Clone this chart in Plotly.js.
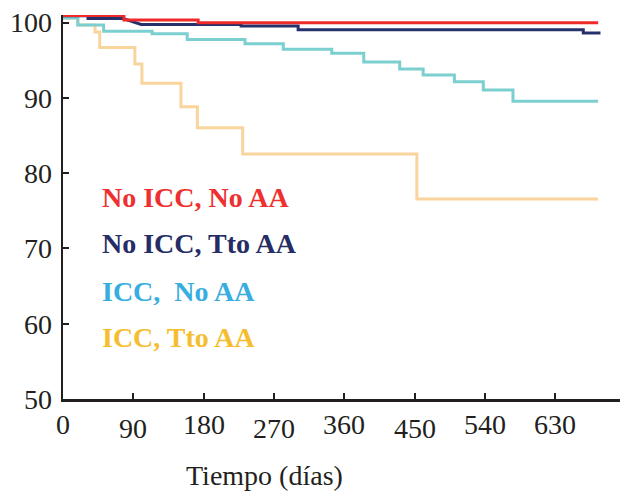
<!DOCTYPE html>
<html>
<head>
<meta charset="utf-8">
<script src="https://cdn.plot.ly/plotly-3.0.1.min.js"></script>
<style>html,body{margin:0;padding:0;background:#fff;}#chart{width:620px;height:492px;}</style>
</head>
<body>
<div id="chart"></div>
<script>
// Data (days, survival %)
const redDays  = [0, 78, 173, 685];
const redVals  = [100.93, 100.33, 99.96, 99.96];

const navyDays = [0, 32, 32, 77, 100, 228, 228, 301, 301, 666, 666, 688];
const navyVals = [100.9, 100.9, 100.52, 100.52, 99.75, 99.75, 99.53, 99.53, 99.04, 99.04, 98.6, 98.6];

const tealDays = [0, 19, 52, 114, 159, 233, 282, 344, 385, 431, 461, 501, 538, 576, 685];
const tealVals = [100.6, 99.67, 98.83, 98.51, 97.74, 97.18, 96.44, 95.91, 94.75, 93.82, 93.03, 92.14, 91.04, 89.54, 89.54];

const orangeDays = [0, 19, 41, 47, 92, 101, 151, 172, 230, 453, 685];
const orangeVals = [100.6, 99.67, 98.74, 96.68, 94.49, 91.93, 88.82, 86.03, 82.54, 76.56, 76.56];

const seriesNames = ["No ICC, No AA", "No ICC, Tto AA", "ICC,\u00a0 No AA", "ICC, Tto AA"];
const xTicks = [0, 90, 180, 270, 360, 450, 540, 630];
const xTickLabels = ["0", "90", "180", "270", "360", "450", "540", "630"];
const yTicks = [50, 60, 70, 80, 90, 100];
const xTitle = "Tiempo (días)";

const serif = '"Liberation Serif", "Times New Roman", serif';
const ink = "#231f20";
const lineCols = ["#ee2a2a", "#26306a", "#7ccfcf", "#f9d49c"];
const textCols = ["#ee3030", "#252d64", "#38aee0", "#f5be30"];
// staggered vertical offset of x tick labels (px below axis)
const xLabelShift = [-25.5, -29, -25.5, -29, -25.5, -29, -25.5, -25.5];

const traces = [
  {x: orangeDays, y: orangeVals, mode: "lines", line: {color: lineCols[3], width: 3, shape: "hv"}, name: seriesNames[3]},
  {x: tealDays, y: tealVals, mode: "lines", line: {color: lineCols[2], width: 3, shape: "hv"}, name: seriesNames[2]},
  {x: navyDays, y: navyVals, mode: "lines", line: {color: lineCols[1], width: 3, shape: "linear"}, name: seriesNames[1]},
  {x: redDays, y: redVals, mode: "lines", line: {color: lineCols[0], width: 3, shape: "hv"}, name: seriesNames[0]}
];

const legendY = [0.526, 0.404, 0.281, 0.161];
const annotations = seriesNames.map((t, i) => ({
  text: "<b>" + t + "</b>", xref: "paper", yref: "paper", x: 0.066, y: legendY[i],
  xanchor: "left", yanchor: "middle", showarrow: false,
  font: {family: serif, size: 28, color: textCols[i]}
}));
xTicks.forEach((v, i) => annotations.push({
  text: xTickLabels[i], xref: "x", yref: "paper", x: v, y: 0, yshift: xLabelShift[i],
  xanchor: "center", yanchor: "middle", showarrow: false,
  font: {family: serif, size: 28, color: ink}
}));
annotations.push({
  text: xTitle, xref: "paper", yref: "paper", x: 0.361, y: -0.198,
  xanchor: "center", yanchor: "middle", showarrow: false,
  font: {family: serif, size: 28, color: ink}
});

const layout = {
  width: 620, height: 492,
  margin: {l: 63, r: 0, t: 15, b: 93},
  paper_bgcolor: "#ffffff", plot_bgcolor: "#ffffff",
  showlegend: false,
  font: {family: serif, size: 28, color: ink},
  xaxis: {
    range: [0, 713], tickmode: "array", tickvals: xTicks, showticklabels: false,
    showgrid: false, zeroline: false, showline: true, linecolor: ink, linewidth: 2.5,
    ticks: "inside", ticklen: 6, tickwidth: 2, tickcolor: ink
  },
  yaxis: {
    range: [50, 101], tickmode: "array", tickvals: yTicks,
    showgrid: false, zeroline: false, showline: true, linecolor: ink, linewidth: 2.5,
    ticks: "inside", ticklen: 6, tickwidth: 2, tickcolor: ink,
    tickfont: {family: serif, size: 28, color: ink}, ticklabelstandoff: 3
  },
  annotations: annotations
};

Plotly.newPlot("chart", traces, layout, {displayModeBar: false, staticPlot: true});
</script>
</body>
</html>
